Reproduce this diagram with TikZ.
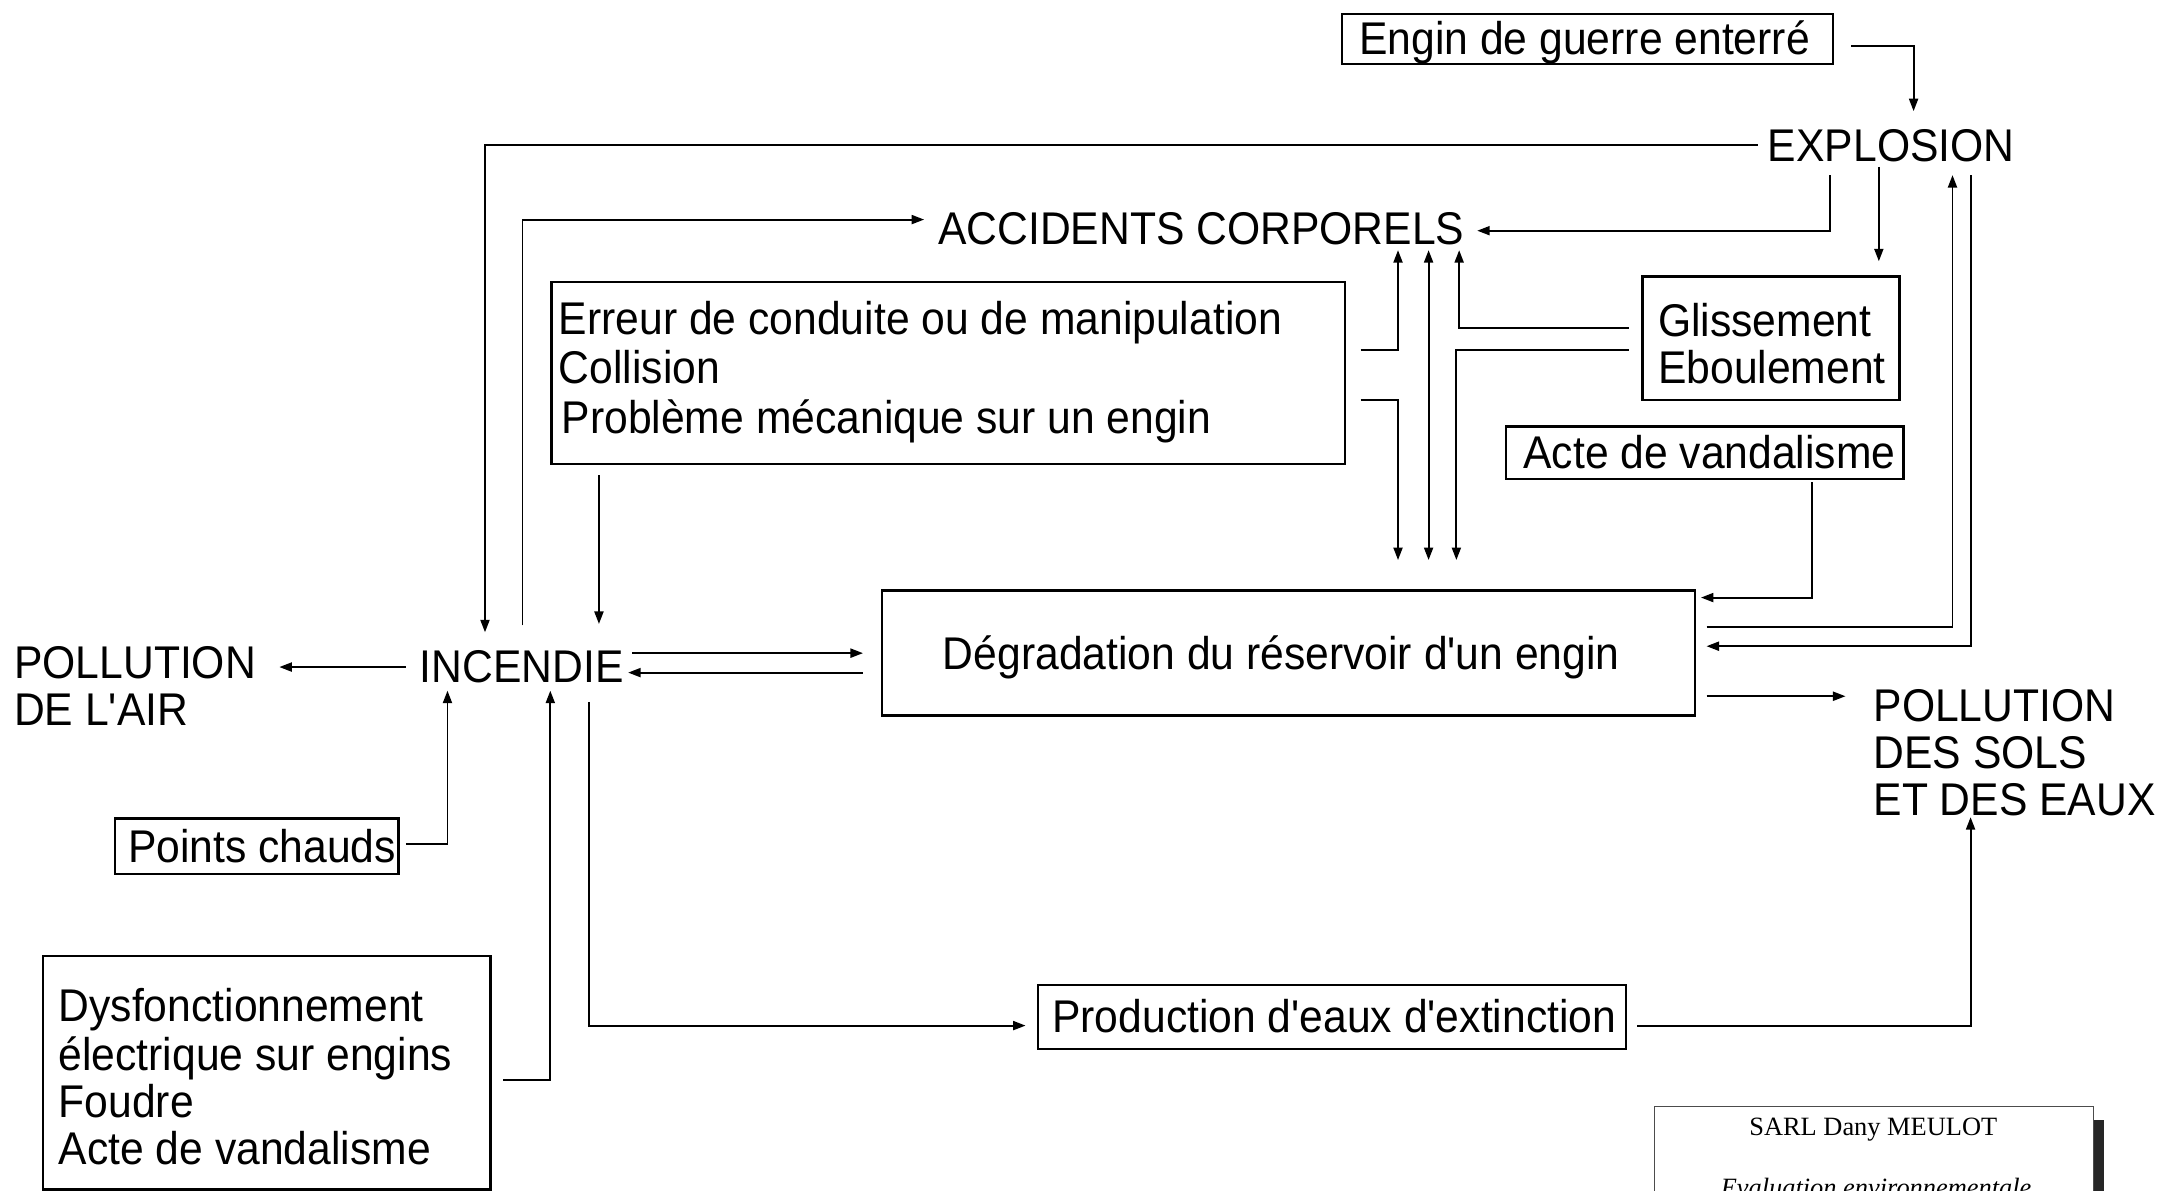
\documentclass[tikz,border=0pt]{standalone}
\usepackage{fontspec}
\usetikzlibrary{arrows.meta}
\newfontfamily\dsans{Liberation Sans}[FakeStretch=0.93]
\newfontfamily\dserif{Liberation Serif}
\begin{document}
\begin{tikzpicture}[x=1pt,y=-1pt,
  boxnode/.style={draw, line width=1.7pt, inner sep=0pt, anchor=north west},
  txt/.style={font=\dsans\fontsize{33}{34.5}\selectfont, inner sep=0pt, anchor=base west},
  ctxt/.style={font=\dsans\fontsize{33}{34.5}\selectfont, inner sep=0pt, anchor=base},
  con/.style={line width=1.4pt},
  arr/.style={con, -{Triangle[length=9pt,width=6.5pt]}},
  darr/.style={con, {Triangle[length=9pt,width=6.5pt]}-{Triangle[length=9pt,width=6.5pt]}}]
\clip (0,0) rectangle (1568,857);
\fill[white] (0,0) rectangle (1568,857);

% boxes
\node[boxnode, minimum width=353pt, minimum height=36pt] (egbox) at (965,9) {};
\node[boxnode, minimum width=185pt, minimum height=89pt] (glbox) at (1181,198) {};
\node[boxnode, minimum width=571pt, minimum height=131pt] (erbox) at (396,202) {};
\node[boxnode, minimum width=286pt, minimum height=38pt] (avbox) at (1083,306) {};
\node[boxnode, minimum width=585pt, minimum height=90pt] (dgbox) at (634,424) {};
\node[boxnode, minimum width=204pt, minimum height=40pt] (pcbox) at (82,588) {};
\node[boxnode, minimum width=322pt, minimum height=168pt] (dybox) at (30,687) {};
\node[boxnode, minimum width=423pt, minimum height=46pt] (prbox) at (746,708) {};

% texts
\node[txt] (egtxt) at (978,39) {Engin de guerre enterré};
\node[txt] (explosion) at (1272,116) {EXPLOSION};
\node[txt] (accidents) at (675,176) {ACCIDENTS CORPORELS};
\node[txt] (er1) at (402,241) {Erreur de conduite ou de manipulation};
\node[txt] (er2) at (402,276) {Collision};
\node[txt] (er3) at (404,312) {Problème mécanique sur un engin};
\node[txt] (gl1) at (1193,242) {Glissement};
\node[txt] (gl2) at (1193,276) {Eboulement};
\node[txt] (av) at (1096,337) {Acte de vandalisme};
\node[ctxt] (dg) at (922,482) {Dégradation du réservoir d'un engin};
\node[txt] (incendie) at (302,491) {INCENDIE};
\node[txt] (pa1) at (10,488) {POLLUTION};
\node[txt] (pa2) at (10,522) {DE L'AIR};
\node[txt] (ps1) at (1348,519) {POLLUTION};
\node[txt] (ps2) at (1348,553) {DES SOLS};
\node[txt] (ps3) at (1348,587) {ET DES EAUX};
\node[txt] (pc) at (92,621) {Points chauds};
\node[txt] (dy1) at (42,735) {Dysfonctionnement};
\node[txt] (dy2) at (42,770) {électrique sur engins};
\node[txt] (dy3) at (42,804) {Foudre};
\node[txt] (dy4) at (42,838) {Acte de vandalisme};
\node[txt] (pr) at (757,743) {Production d'eaux d'extinction};

% SARL cartouche
\fill[black!85] (1506,806) rectangle (1514,860);
\node[draw=black!70, line width=0.8pt, inner sep=0pt, anchor=north west, minimum width=316pt, minimum height=80pt] (sarl) at (1190,796) {};
\node[font=\dserif\fontsize{19}{22}\selectfont, inner sep=0pt, anchor=base] (sarl1) at (1348,817) {SARL Dany MEULOT};
\node[font=\dserif\itshape\fontsize{19}{22}\selectfont, inner sep=0pt, anchor=base] (sarl2) at (1350,861) {Evaluation environnementale};

% connector points
\coordinate (a1) at (1332,33);   \coordinate (a2) at (1377,80);
\coordinate (b1) at (1265,104);  \coordinate (b2) at (349,455);
\coordinate (c1) at (376,450);   \coordinate (c2) at (665,158);
\coordinate (d1) at (1317,126);  \coordinate (d2) at (1063,166);
\coordinate (e1) at (1352,120);  \coordinate (e2) at (1352,188);
\coordinate (f1) at (979,252);   \coordinate (f2) at (1006,180);
\coordinate (g1) at (979,288);   \coordinate (g2) at (1006,403);
\coordinate (h1) at (1028,180);  \coordinate (h2) at (1028,403);
\coordinate (i1) at (1172,236);  \coordinate (i2) at (1050,180);
\coordinate (j1) at (1172,252);  \coordinate (j2) at (1048,403);
\coordinate (k1) at (431,342);   \coordinate (k2) at (431,449);
\coordinate (l1) at (1304,347);  \coordinate (l2) at (1224,430);
\coordinate (m1) at (1228,451);  \coordinate (m2) at (1405,126);
\coordinate (n1) at (1418,126);  \coordinate (n2) at (1228,465);
\coordinate (o1) at (455,470);   \coordinate (o2) at (621,470);
\coordinate (p1) at (621,484);   \coordinate (p2) at (452,484);
\coordinate (q1) at (292,480);   \coordinate (q2) at (201,480);
\coordinate (r1) at (292,607);   \coordinate (r2) at (322,497);
\coordinate (s1) at (362,777);   \coordinate (s2) at (396,497);
\coordinate (t1) at (424,505);   \coordinate (t2) at (738,738);
\coordinate (u1) at (1178,738);  \coordinate (u2) at (1418,588);
\coordinate (v1) at (1228,501);  \coordinate (v2) at (1328,501);

% connectors
\draw[arr] (a1) -| (a2);
\draw[arr] (b1) -| (b2);
\draw[arr] (c1) |- (c2);
\draw[arr] (d1) |- (d2);
\draw[arr] (e1) -- (e2);
\draw[arr] (f1) -| (f2);
\draw[arr] (g1) -| (g2);
\draw[darr] (h1) -- (h2);
\draw[arr] (i1) -| (i2);
\draw[arr] (j1) -| (j2);
\draw[arr] (k1) -- (k2);
\draw[arr] (l1) |- (l2);
\draw[arr] (m1) -| (m2);
\draw[arr] (n1) |- (n2);
\draw[arr] (o1) -- (o2);
\draw[arr] (p1) -- (p2);
\draw[arr] (q1) -- (q2);
\draw[arr] (r1) -| (r2);
\draw[arr] (s1) -| (s2);
\draw[arr] (t1) |- (t2);
\draw[arr] (u1) -| (u2);
\draw[arr] (v1) -- (v2);
\end{tikzpicture}
\end{document}
